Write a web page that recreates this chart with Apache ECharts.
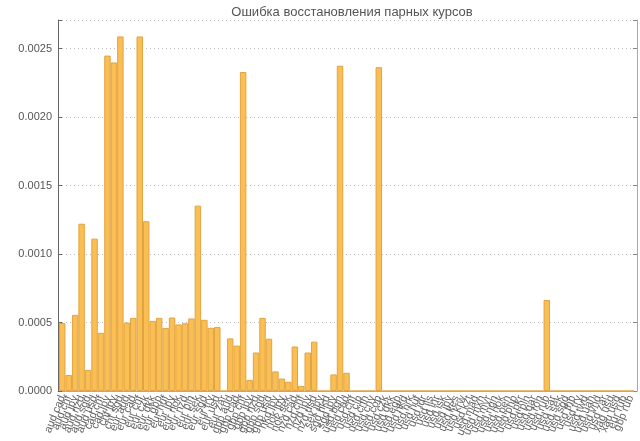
<!DOCTYPE html>
<html><head><meta charset="utf-8">
<script src="https://cdn.jsdelivr.net/npm/echarts@6/dist/echarts.min.js"></script>
<style>html,body{margin:0;padding:0;background:#fff}#c{width:640px;height:441px}</style>
</head><body><div id="c"></div>
<script>
const titleText = "Ошибка восстановления парных курсов";
const categories = [
"aud cad","aud chf","aud jpy","aud nzd","aud sgd","aud usd","cad chf","cad jpy","chf jpy","chf sgd",
"eur aud","eur cad","eur chf","eur czk","eur dkk","eur gbp","eur huf","eur jpy","eur nok","eur nzd",
"eur pln","eur sek","eur sgd","eur try","eur usd","eur zar","gbp aud","gbp cad","gbp chf","gbp jpy",
"gbp nzd","gbp sgd","gbp usd","hkd jpy","nok jpy","nok sek","nzd cad","nzd chf","nzd jpy","nzd usd",
"sek jpy","sgd hkd","sgd jpy","usd bgn","usd cad","usd chf","usd clp","usd cnh","usd cny","usd cop",
"usd czk","usd dkk","usd egp","usd hkd","usd hrk","usd huf","usd idr","usd ils","usd inr","usd isk",
"usd jpy","usd kes","usd krw","usd kzt","usd mad","usd mxn","usd myr","usd ngn","usd nok","usd pen",
"usd php","usd pkr","usd pln","usd qar","usd ron","usd rub","usd sar","usd sek","usd sgd","usd thb",
"usd try","usd twd","usd uah","usd vnd","usd zar","xag usd","xau usd","eur rub","gbp rub"];
const errors = [
0.000497,0.000117,0.000556,0.001222,0.000154,0.001113,0.000425,0.00245,0.0024,0.00259,
0.0005,0.000534,0.00259,0.00124,0.000512,0.000534,0.000461,0.000537,0.000486,0.000495,
0.00053,0.001354,0.00052,0.000462,0.000467,0,0.000384,0.000332,0.00233,0.000081,
0.000281,0.000534,0.000382,0.000143,0.000091,0.000067,0.000325,0.000037,0.000281,0.00036,
0,0,0.000121,0.002376,0.000133,0,0,0,0,0.002365,
0,0,0,0,0,0,0,0,0,0,
0,0,0,0,0,0,0,0,0,0,
0,0,0,0,0,0.000665,0,0,0,0,
0,0,0,0,0,0,0,0,0];
const yTicks = [0, 0.0005, 0.001, 0.0015, 0.002, 0.0025];

const chart = echarts.init(document.getElementById('c'), null, {renderer:'canvas'});
const font = 'Liberation Sans, Arial, sans-serif';
const yMax = 0.00271;
chart.setOption({
  animation:false,
  title:{text:titleText,left:347,top:1,textAlign:'center',
    textStyle:{fontFamily:font,fontSize:13,fontWeight:'normal',color:'#555'}},
  grid:[{left:59,right:6,top:20,bottom:50,containLabel:false},
        {left:58,right:3,top:20,bottom:50,containLabel:false}],
  xAxis:[{type:'category',data:categories,position:'bottom',boundaryGap:true,gridIndex:0,
    axisLine:{lineStyle:{color:'#666'}},
    axisTick:{inside:true,length:3,alignWithLabel:true,lineStyle:{color:'#666'}},
    axisLabel:{interval:0,rotate:68,fontFamily:font,fontSize:11,color:'#666',margin:5}},
   {type:'category',data:categories,position:'top',boundaryGap:true,gridIndex:0,
    axisLine:{show:false},
    axisTick:{inside:true,length:2,alignWithLabel:true,lineStyle:{color:'#888'}},
    axisLabel:{show:false}},
   {type:'value',min:0,max:1,gridIndex:1,position:'top',
    axisLine:{show:true,lineStyle:{color:'#aaa'}},axisTick:{show:false},
    axisLabel:{show:false},splitLine:{show:false}}],
  yAxis:[{type:'value',min:0,max:yMax,interval:0.0005,gridIndex:0,
    axisLine:{show:false},
    axisTick:{show:false},
    axisLabel:{show:false},
    splitLine:{show:false}},
   {type:'value',min:0,max:yMax,interval:0.0005,position:'left',gridIndex:1,
    axisLine:{show:true,lineStyle:{color:'#666'}},
    axisTick:{show:true,inside:true,length:4,lineStyle:{color:'#666'}},
    axisLabel:{fontFamily:font,fontSize:11,color:'#555',margin:6,
      formatter:v=>yTicks.some(t=>Math.abs(t-v)<1e-9)?v.toFixed(4):''},
    splitLine:{show:true,lineStyle:{color:'#bbb',type:[1,3],width:1}}},
   {type:'value',min:0,max:yMax,interval:0.0005,position:'right',gridIndex:1,
    axisLine:{show:true,lineStyle:{color:'#aaa'}},
    axisTick:{show:true,inside:true,length:4,lineStyle:{color:'#888'}},
    axisLabel:{show:false},splitLine:{show:false}}],
  series:[{type:'bar',data:errors,xAxisIndex:0,yAxisIndex:0,barCategoryGap:'0%',
    itemStyle:{color:'#fbbe53',borderColor:'#e0a442',borderWidth:1}}]
});
</script></body></html>
